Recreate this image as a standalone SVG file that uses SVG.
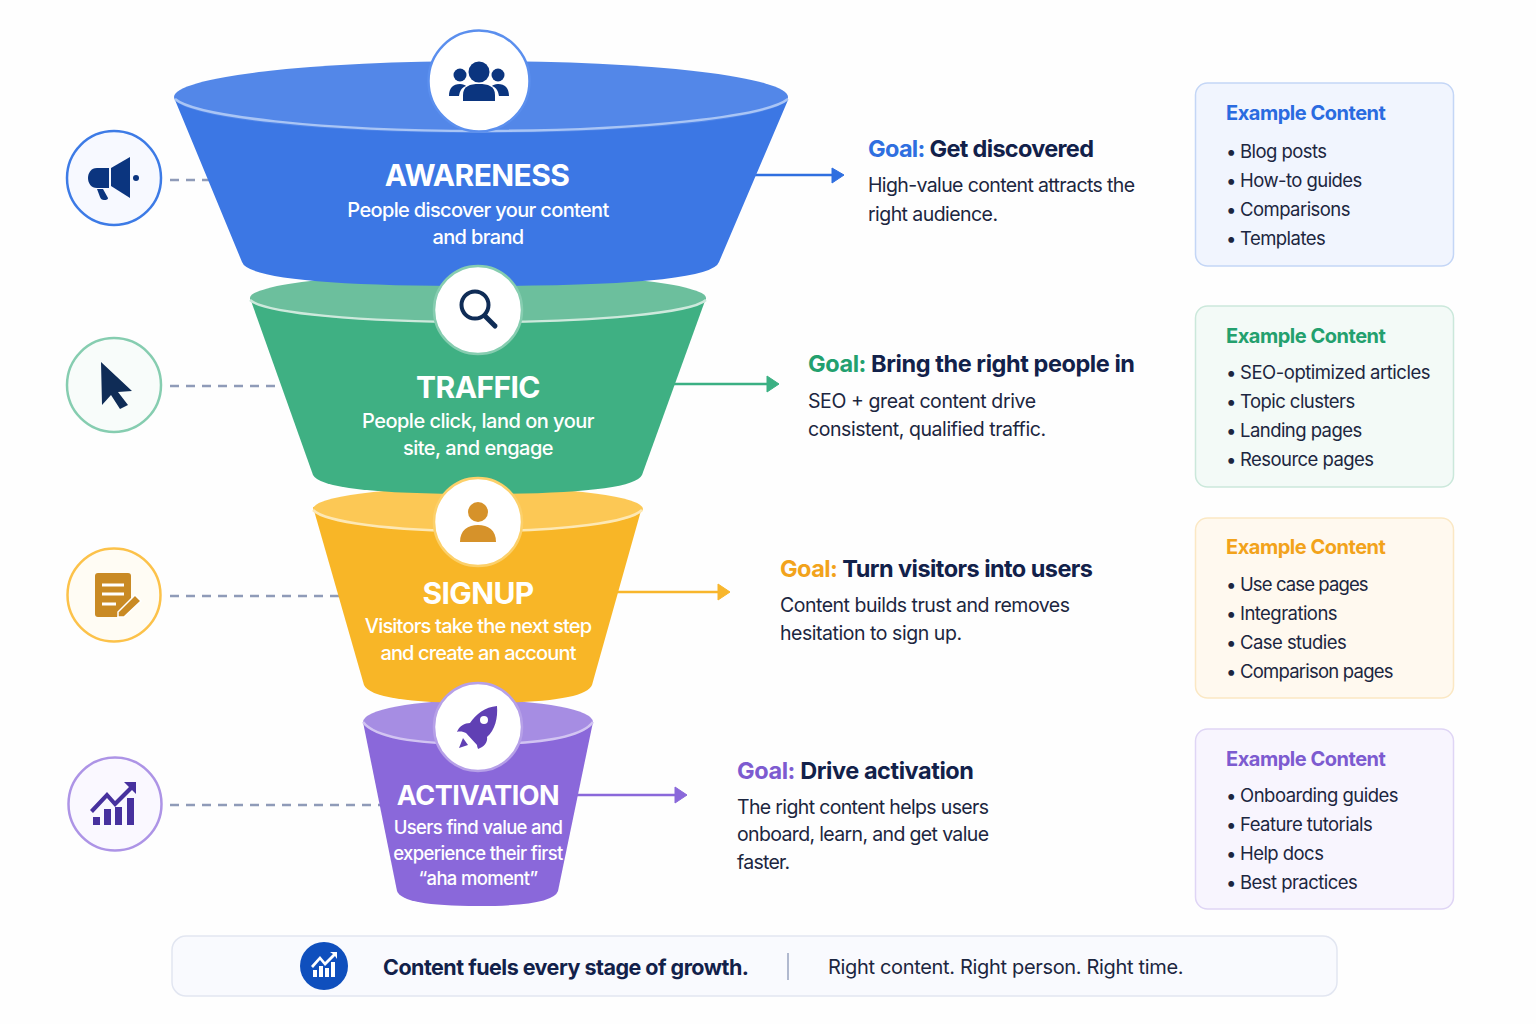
<svg xmlns="http://www.w3.org/2000/svg" width="1536" height="1024" viewBox="0 0 1536 1024">
<style>
text{font-family:Inter,"Liberation Sans",sans-serif}
.t{font-size:30px;font-weight:700;fill:#fff;text-anchor:middle;letter-spacing:-.6px}
.s{font-size:20px;font-weight:500;fill:#fff;text-anchor:middle;letter-spacing:-.65px}
.g{font-size:23.5px;font-weight:700;fill:#12214a}
.b{font-size:19.5px;fill:#1c2640}
.h{font-size:20px;font-weight:700;letter-spacing:-.48px}
.l{font-size:18.5px;fill:#1c2640;letter-spacing:-.55px}
.d{fill:none;stroke:#8f9bb8;stroke-width:2.5;stroke-dasharray:9 7}
.a{fill:none;stroke-width:2.5}
.c{fill:#fff;stroke-width:2.5}
</style>
<rect width="1536" height="1024" fill="#fefefe"/>
<g id="connectors">
<path class="d" d="M170 180H215"/><path class="d" d="M170 386H290"/><path class="d" d="M170 596H345"/><path class="d" d="M170 805H385"/>
<path class="a" stroke="#2f6fe0" d="M750 175H835"/><path fill="#2f6fe0" stroke="#2f6fe0" stroke-linejoin="round" d="M832 168L844 175L832 183Z"/>
<path class="a" stroke="#3bb083" d="M670 384H770"/><path fill="#3bb083" stroke="#3bb083" stroke-linejoin="round" d="M767 376L779 384L767 392Z"/>
<path class="a" stroke="#f8b62c" d="M615 592H720"/><path fill="#f8b62c" stroke="#f8b62c" stroke-linejoin="round" d="M718 584L730 592L718 600Z"/>
<path class="a" stroke="#8a68da" d="M575 795H677"/><path fill="#8a68da" stroke="#8a68da" stroke-linejoin="round" d="M675 787L687 795L675 803Z"/>
</g>
<g id="activation">
<path fill="#8a68da" d="M363 722L397 891Q402 906 478 906Q553 906 558 891L593 722Z"/>
<ellipse cx="478" cy="722" rx="115" ry="22" fill="#a68de3"/>
<path d="M363 722C375 738 420 744 478 744C536 744 581 738 593 722" fill="none" stroke="#d2c4f2" stroke-width="2.5"/>
<text class="t" x="478" y="805" style="font-size:27px;letter-spacing:-.5px">ACTIVATION</text>
<text class="s" x="478" y="834" style="font-size:18.5px;letter-spacing:-.65px">Users find value and</text>
<text class="s" x="478" y="860" style="font-size:18.5px;letter-spacing:-.65px">experience their first</text>
<text class="s" x="478" y="885" style="font-size:18.5px;letter-spacing:-.65px">“aha moment”</text>
</g>
<g id="signup">
<path fill="#f8b627" d="M313 507L364 685Q372 703 478 703Q585 703 592 685L642 507Z"/>
<ellipse cx="478" cy="509" rx="165" ry="22" fill="#fcc855"/>
<path d="M313 510C325 522 390 531 478 531C566 531 630 522 642 510" fill="none" stroke="#fde8b4" stroke-width="2.5"/>
<text class="t" x="478" y="604">SIGNUP</text>
<text class="s" x="478" y="633" style="letter-spacing:-.8px">Visitors take the next step</text>
<text class="s" x="478" y="660" style="letter-spacing:-.85px">and create an account</text>
</g>
<g id="traffic">
<path fill="#3fb083" d="M250 298L313 475Q322 494 478 494Q633 494 642 475L706 298Z"/>
<ellipse cx="478" cy="298" rx="228" ry="25" fill="#6cbf9d"/>
<path d="M250 300C265 313 360 322 478 322C596 322 691 313 706 300" fill="none" stroke="#cde9dc" stroke-width="2.5"/>
<text class="t" x="478" y="398">TRAFFIC</text>
<text class="s" x="478" y="428" style="letter-spacing:-.5px">People click, land on your</text>
<text class="s" x="478" y="455" style="letter-spacing:-.5px">site, and engage</text>
</g>
<g id="awareness">
<path fill="#3c77e4" d="M175 100L242 262Q250 286 478 286Q711 286 719 262L788 100Z"/>
<ellipse cx="481" cy="97" rx="307" ry="36" fill="#5387e8"/>
<path d="M175 99C195 116 320 131 481 131C642 131 767 116 788 99" fill="none" stroke="#a9c5f5" stroke-width="2.5"/>
<text class="t" x="477" y="186">AWARENESS</text>
<text class="s" x="478" y="217">People discover your content</text>
<text class="s" x="478" y="244">and brand</text>
</g>
<g id="icon-people">
<circle class="c" cx="479" cy="81" r="50.500" stroke="#5b8fee"/>
<g fill="#0b357f"><circle cx="479" cy="72" r="10.500"/><circle cx="460" cy="75" r="6.500"/><circle cx="498" cy="75" r="6.500"/>
<path d="M463 101V95C463 86 470 84 479 84C488 84 495 86 495 95V101Z"/><path d="M449 96C449 88 453 84 460 84C463 84 465 85 466 86C461 88 460 91 459 96Z"/><path d="M509 96C509 88 505 84 498 84C495 84 493 85 492 86C497 88 498 91 499 96Z"/></g>
</g>
<g id="icon-search">
<circle class="c" cx="478" cy="310" r="44" stroke="#86cdb0"/>
<circle cx="475" cy="305" r="13.500" fill="none" stroke="#0f2c56" stroke-width="4"/><path d="M485 316L495 326" stroke="#0f2c56" stroke-width="5" stroke-linecap="round"/>
</g>
<g id="icon-user">
<circle class="c" cx="478" cy="522" r="44" stroke="#fcd06a"/>
<circle cx="478" cy="512" r="10" fill="#d6922a"/><path d="M460 542C460 530 468 525 478 525C488 525 496 530 496 542Z" fill="#d6922a"/>
</g>
<g id="icon-rocket">
<circle class="c" cx="478" cy="727" r="44" stroke="#b6a0e8"/>
<path fill="#6040b4" d="M497 706C485 707 476 714 470 723C465 723 459 726 457 732C460 731 464 732 466 733L477 745C477 747 478 748 478 749C484 747 488 742 487 737C495 730 498 718 497 706Z"/><path fill="#6040b4" d="M463 738L468 745L459 748Z"/><circle cx="484" cy="720" r="4" fill="#fff"/>
</g>
<g id="icon-megaphone">
<circle cx="114" cy="178" r="47" fill="#f7f9ff" stroke="#3d7be6" stroke-width="2.500"/>
<g fill="#0b357f"><path d="M109 168V188H97C91 188 88 183 88 178C88 173 91 168 97 168Z"/><path d="M111 168L130 157V198L111 186Z"/><circle cx="136" cy="178" r="3"/><path d="M97 189H103L108 198Q108 200 104 200Q101 200 100 197Z"/></g>
</g>
<g id="icon-cursor">
<circle cx="114" cy="385" r="47" fill="#f8fcfa" stroke="#86cdb0" stroke-width="2.500"/>
<path fill="#0f2c56" d="M101 362L132 391L118 392L128 405L120 409L111 395L102 405Z"/>
</g>
<g id="icon-form">
<circle cx="114" cy="595" r="46.500" fill="#fffcf4" stroke="#fcc24a" stroke-width="2.500"/>
<path fill="#c98a24" d="M98 573H128Q131 573 131 576V605L117 617H98Q95 617 95 614V576Q95 573 98 573Z"/>
<path stroke="#fff" stroke-width="3" d="M102 585H124M102 594H124M102 604H116"/>
<path stroke="#fff" stroke-width="1.500" fill="#c98a24" d="M118 612L135 595L141 601L124 617L118 617Z"/>
</g>
<g id="icon-chart">
<circle cx="115" cy="804" r="46.500" fill="#faf8ff" stroke="#ad94e6" stroke-width="2.500"/>
<g fill="#47319e"><path d="M93 817H100V825H93ZM104 809H111V825H104ZM115 807H122V825H115ZM127 798H134V825H127Z"/><path d="M124 782H136V794L132 790L115 807L107 798L93 813L90 810L107 792L115 801L129 787Z"/></g>
</g>
<g id="goal-1"><text class="g" x="868" y="157" textLength="226"><tspan fill="#2f6fe0">Goal:</tspan> Get discovered</text>
<text class="b" x="868" y="192" textLength="267">High-value content attracts the</text><text class="b" x="868" y="221" textLength="130">right audience.</text></g>
<g id="goal-2"><text class="g" x="808" y="372" textLength="327"><tspan fill="#23a06e">Goal:</tspan> Bring the right people in</text>
<text class="b" x="808" y="408" textLength="228">SEO + great content drive</text><text class="b" x="808" y="436" textLength="238">consistent, qualified traffic.</text></g>
<g id="goal-3"><text class="g" x="780" y="577" textLength="313"><tspan fill="#f2a31b">Goal:</tspan> Turn visitors into users</text>
<text class="b" x="780" y="612" textLength="290">Content builds trust and removes</text><text class="b" x="780" y="640" textLength="182">hesitation to sign up.</text></g>
<g id="goal-4"><text class="g" x="737" y="779" textLength="237"><tspan fill="#7d5bd0">Goal:</tspan> Drive activation</text>
<text class="b" x="737" y="814" textLength="252">The right content helps users</text><text class="b" x="737" y="841" textLength="252">onboard, learn, and get value</text><text class="b" x="737" y="869" textLength="53">faster.</text></g>
<g id="card-1"><rect x="1195.500" y="83" width="258" height="183" rx="12" fill="#f1f5fe" stroke="#c4d6f6" stroke-width="1.500"/>
<text class="h" x="1226" y="120" fill="#2a6be0">Example Content</text>
<text class="l" y="158"><tspan x="1226">•</tspan><tspan x="1240">Blog posts</tspan></text><text class="l" y="187"><tspan x="1226">•</tspan><tspan x="1240">How-to guides</tspan></text><text class="l" y="216"><tspan x="1226">•</tspan><tspan x="1240">Comparisons</tspan></text><text class="l" y="245"><tspan x="1226">•</tspan><tspan x="1240">Templates</tspan></text></g>
<g id="card-2"><rect x="1195.500" y="306" width="258" height="181" rx="12" fill="#f3faf7" stroke="#cbe8db" stroke-width="1.500"/>
<text class="h" x="1226" y="343" fill="#23a06e">Example Content</text>
<text class="l" y="379"><tspan x="1226">•</tspan></text><text class="l" x="1240" y="379" textLength="190">SEO-optimized articles</text><text class="l" y="408"><tspan x="1226">•</tspan><tspan x="1240">Topic clusters</tspan></text><text class="l" y="437"><tspan x="1226">•</tspan><tspan x="1240">Landing pages</tspan></text><text class="l" y="466"><tspan x="1226">•</tspan><tspan x="1240">Resource pages</tspan></text></g>
<g id="card-3"><rect x="1195.500" y="518" width="258" height="180" rx="12" fill="#fff9ef" stroke="#fbe8c4" stroke-width="1.500"/>
<text class="h" x="1226" y="554" fill="#f2a31b">Example Content</text>
<text class="l" y="591"><tspan x="1226">•</tspan></text><text class="l" x="1240" y="591" textLength="128">Use case pages</text><text class="l" y="620"><tspan x="1226">•</tspan><tspan x="1240">Integrations</tspan></text><text class="l" y="649"><tspan x="1226">•</tspan><tspan x="1240">Case studies</tspan></text><text class="l" y="678"><tspan x="1226">•</tspan></text><text class="l" x="1240" y="678" textLength="153">Comparison pages</text></g>
<g id="card-4"><rect x="1195.500" y="729" width="258" height="180" rx="12" fill="#f8f5fe" stroke="#dfd5f5" stroke-width="1.500"/>
<text class="h" x="1226" y="766" fill="#7d5bd0">Example Content</text>
<text class="l" y="802"><tspan x="1226">•</tspan></text><text class="l" x="1240" y="802" textLength="158">Onboarding guides</text><text class="l" y="831"><tspan x="1226">•</tspan><tspan x="1240">Feature tutorials</tspan></text><text class="l" y="860"><tspan x="1226">•</tspan><tspan x="1240">Help docs</tspan></text><text class="l" y="889"><tspan x="1226">•</tspan><tspan x="1240">Best practices</tspan></text></g>
<g id="footer"><rect x="172" y="936" width="1165" height="60" rx="14" fill="#f9fafe" stroke="#e2e6f1" stroke-width="1.500"/>
<circle cx="324" cy="966" r="24" fill="#0f4fbd"/>
<g fill="#fff"><path d="M313 970H317V977H313ZM319 966H323V977H319ZM325 968H329V977H325ZM331 962H335V977H331Z"/><path d="M311 966L320 956L325 962L333 954L330 952H337V959L335 956L325 966L320 960L313 968Z"/></g>
<text x="383" y="975" font-size="21.500" font-weight="700" fill="#12214a" letter-spacing="-.52">Content fuels every stage of growth.</text>
<path d="M788 953V980" stroke="#98a3bf" stroke-width="1.500"/>
<text x="828" y="974" font-size="20" fill="#1c2640" letter-spacing="-.33">Right content. Right person. Right time.</text></g>
</svg>
